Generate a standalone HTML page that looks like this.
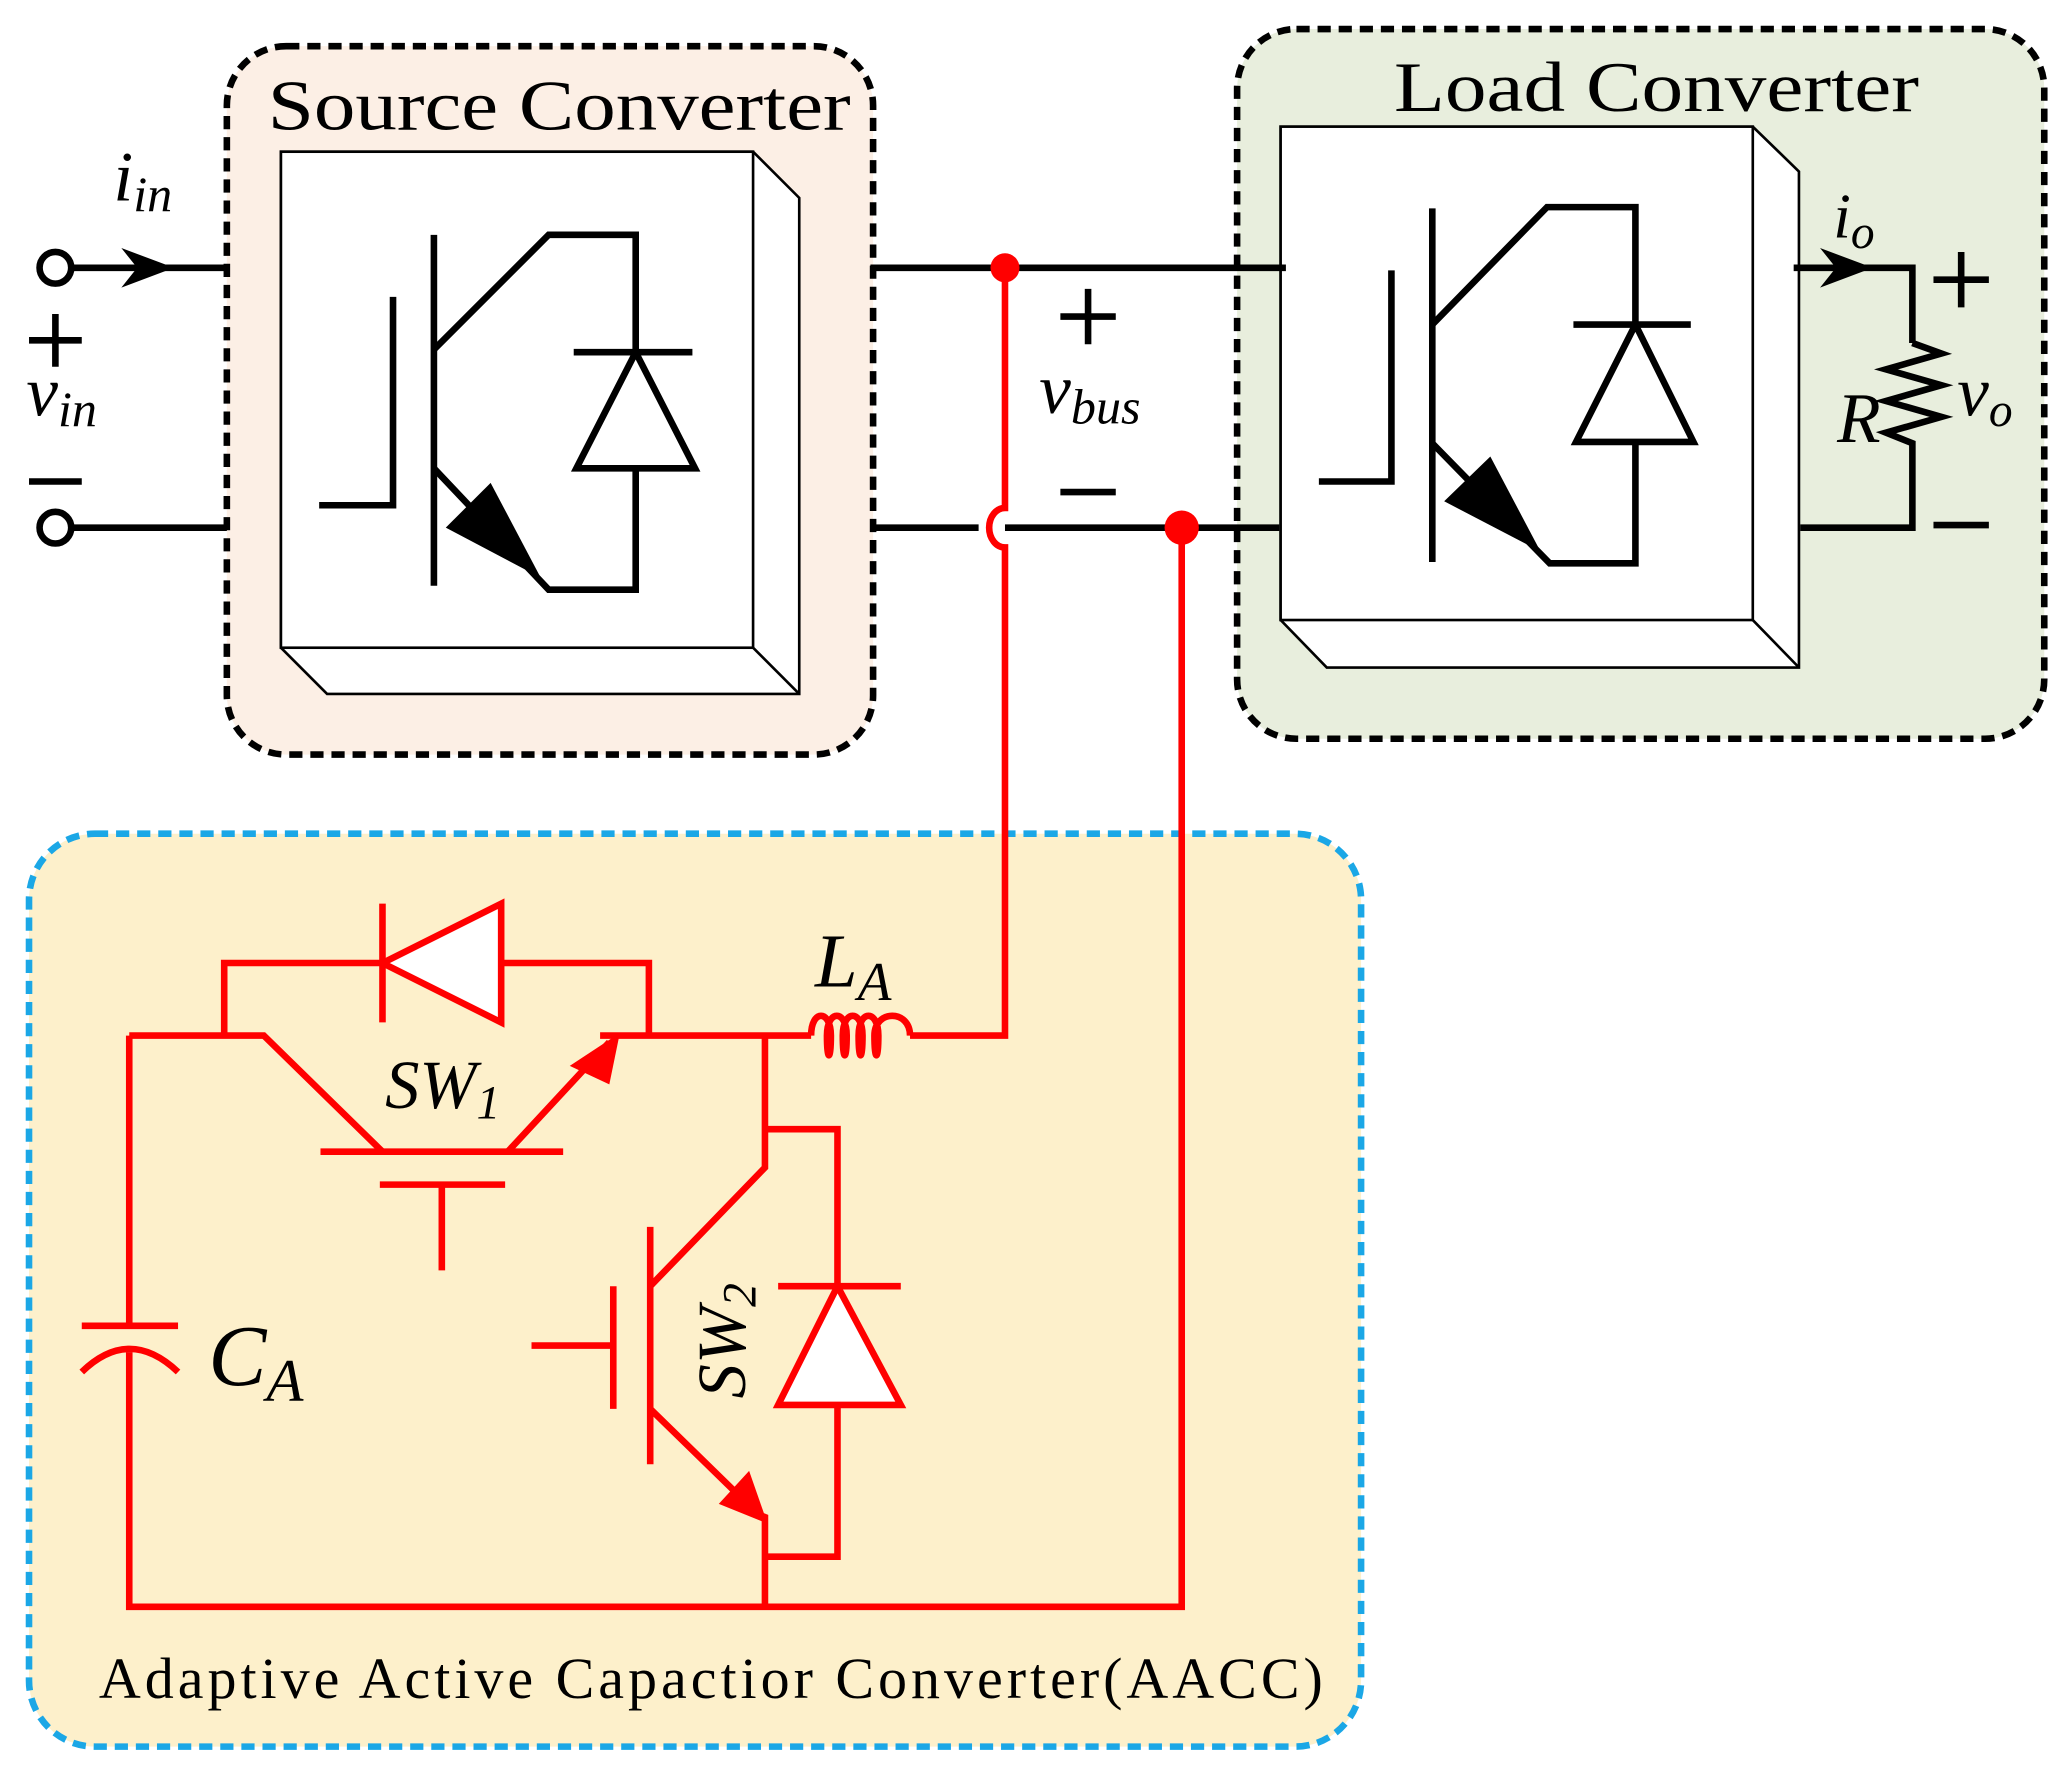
<!DOCTYPE html>
<html><head><meta charset="utf-8"><style>
html,body{margin:0;padding:0;background:#fff;}
svg{display:block;}
text{font-family:"Liberation Serif",serif;}
</style></head><body>
<svg width="2068" height="1773" viewBox="0 0 1568 1344" preserveAspectRatio="none" xmlns="http://www.w3.org/2000/svg">
<!-- boxes -->
<rect x="172" y="35" width="490" height="537" rx="45" fill="#fcefe5" stroke="#000" stroke-width="5" stroke-dasharray="10,6"/>
<rect x="938" y="22" width="612" height="538" rx="45" fill="#e8eedd" stroke="#000" stroke-width="5" stroke-dasharray="10,6"/>
<rect x="22" y="632" width="1010" height="692" rx="50" fill="#fdf0cb" stroke="#1ba7e6" stroke-width="5" stroke-dasharray="10,6"/>
<text x="203" y="98" font-size="54" textLength="442" lengthAdjust="spacingAndGlyphs">Source Converter</text>
<text x="1057" y="84" font-size="54" textLength="398" lengthAdjust="spacingAndGlyphs">Load Converter</text>
<text x="75" y="1287" font-size="44" textLength="928" lengthAdjust="spacing">Adaptive Active Capactior Converter(AACC)</text>

<!-- 3D boxes -->
<g fill="#fff" stroke="#000" stroke-width="2">
<polygon points="213,115 571,115 606,150 606,526 248,526 213,491"/>
<rect x="213" y="115" width="358" height="376"/>
<line x1="571" y1="491" x2="606" y2="526"/>
<polygon points="971,96 1329,96 1364,130 1364,506 1006,506 971,470"/>
<rect x="971" y="96" width="358" height="374"/>
<line x1="1329" y1="470" x2="1364" y2="506"/>
</g>

<!-- IGBTs -->
<g stroke="#000" stroke-width="5" fill="none">
<polyline points="242,383 298,383 298,225"/>
<line x1="329" y1="178" x2="329" y2="444"/>
<polyline points="329,265 416,178 482,178 482,447 416,447 329,355"/>
<line x1="435" y1="267" x2="525" y2="267"/>
<polygon points="482,267 437,355 527,355" fill="#fff"/>
<polyline points="1000,365 1055,365 1055,205"/>
<line x1="1086" y1="158" x2="1086" y2="426"/>
<polyline points="1086,246 1173,157 1240,157 1240,427 1175,427 1086,336"/>
<line x1="1193" y1="246" x2="1282" y2="246"/>
<polygon points="1240,246 1195,335 1284,335" fill="#fff"/>
</g>
<polygon points="338,400 372,366 410,438" fill="#000"/>
<polygon points="1095,380 1130,346 1168,418" fill="#000"/>

<!-- black wiring -->
<g stroke="#000" stroke-width="5" fill="none">
<line x1="54" y1="203" x2="172" y2="203"/>
<line x1="54" y1="400" x2="172" y2="400"/>
<circle cx="42" cy="203" r="12" fill="#fff"/>
<circle cx="42" cy="400" r="12" fill="#fff"/>
<line x1="660" y1="203" x2="975" y2="203"/>
<line x1="660" y1="400" x2="742" y2="400"/>
<line x1="762" y1="400" x2="970" y2="400"/>
<polyline points="1360,203 1450,203 1450,260"/>
<polyline points="1450,260 1472,268 1430,280 1472,292 1430,304 1472,316 1430,328 1450,336 1450,400 1365,400"/>
<line x1="1466" y1="398" x2="1508" y2="398"/>
<line x1="1466" y1="212" x2="1508" y2="212"/><line x1="1487" y1="191" x2="1487" y2="233"/>
<line x1="22" y1="258" x2="62" y2="258"/><line x1="42" y1="238" x2="42" y2="278"/>
<line x1="22" y1="365" x2="62" y2="365"/>
<line x1="804" y1="240" x2="846" y2="240"/><line x1="825" y1="219" x2="825" y2="261"/>
<line x1="804" y1="373" x2="846" y2="373"/>
</g>
<polygon points="92,188 132,203 92,218 104,203" fill="#000"/>
<polygon points="1380,188 1420,203 1380,218 1392,203" fill="#000"/>
<g font-style="italic">
<text x="86" y="152" font-size="54">i<tspan font-size="38" dy="8">in</tspan></text>
<text x="20" y="315" font-size="54">v<tspan font-size="38" dy="8">in</tspan></text>
<text x="788" y="313" font-size="54">v<tspan font-size="38" dy="8">bus</tspan></text>
<text x="1390" y="180" font-size="48">i<tspan font-size="36" dy="8">o</tspan></text>
<text x="1393" y="335" font-size="54">R</text>
<text x="1484" y="315" font-size="54">v<tspan font-size="36" dy="8">o</tspan></text>
</g>

<!-- red circuit -->
<g stroke="#f00" stroke-width="5" fill="none">
<path d="M762,203 V385 A12,15 0 0 0 762,415 V785 H690"/>
<path d="M896,400 V1218 H98 V1025"/>
<line x1="98" y1="785" x2="98" y2="1005"/>
<line x1="62" y1="1005" x2="135" y2="1005"/>
<path d="M62,1040 Q98,1005 135,1040"/>
<polyline points="98,785 200,785 290,873"/>
<polyline points="170,785 170,730 290,730"/>
<line x1="290" y1="685" x2="290" y2="775"/>
<polygon points="290,730 380,685 380,775" fill="#fff"/>
<polyline points="380,730 492,730 492,785"/>
<line x1="243" y1="873" x2="427" y2="873"/>
<line x1="288" y1="898" x2="383" y2="898"/>
<line x1="335" y1="898" x2="335" y2="963"/>
<polyline points="385,873 462,790"/>
<line x1="455" y1="785" x2="615" y2="785"/>
<path d="M615,785 C615,765 630,765 630,785 C630,805 627,805 627,785 C627,765 642,765 642,785 C642,805 639,805 639,785 C639,765 654,765 654,785 C654,805 651,805 651,785 C651,765 666,765 666,785 C666,805 663,805 663,785 C663,765 690,765 690,785"/>
<polyline points="580,785 580,885 493,975"/>
<polyline points="580,856 635,856 635,975"/>
<line x1="590" y1="975" x2="683" y2="975"/>
<polygon points="635,975 590,1065 683,1065" fill="#fff"/>
<polyline points="635,1065 635,1180 580,1180"/>
<line x1="493" y1="930" x2="493" y2="1110"/>
<line x1="465" y1="975" x2="465" y2="1068"/>
<line x1="403" y1="1020" x2="465" y2="1020"/>
<polyline points="493,1068 575,1148 580,1150 580,1218"/>
</g>
<polygon points="470,783 462,822 432,808" fill="#f00"/>
<polygon points="582,1155 545,1140 568,1115" fill="#f00"/>
<circle cx="762" cy="203" r="11" fill="#f00"/>
<circle cx="896" cy="400" r="13" fill="#f00"/>
<g font-style="italic" fill="#000">
<text x="618" y="748" font-size="58">L<tspan font-size="42" dy="10">A</tspan></text>
<text x="292" y="840" font-size="52">SW<tspan font-size="36" dy="8">1</tspan></text>
<text x="158" y="1050" font-size="66">C<tspan font-size="46" dy="12">A</tspan></text>
<text transform="translate(565,1060) rotate(-90)" font-size="52">SW<tspan font-size="36" dy="8">2</tspan></text>
</g>
</svg>
</body></html>
